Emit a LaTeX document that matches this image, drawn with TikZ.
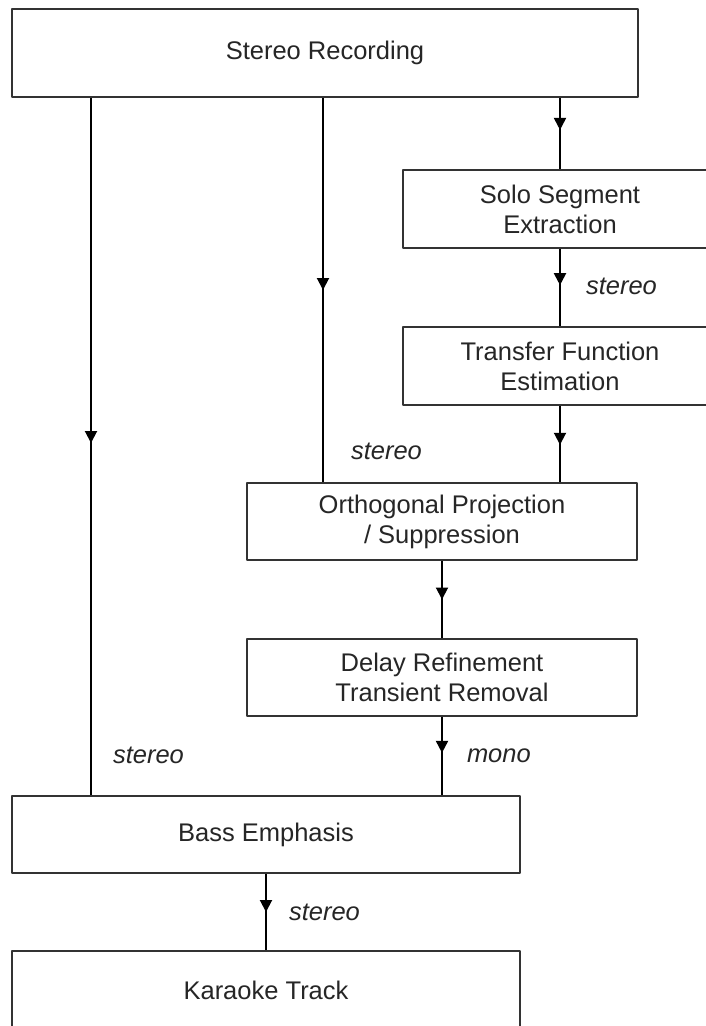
\documentclass[tikz,border=0pt]{standalone}
\usepackage{fontspec}
\setmainfont{Liberation Sans}
\usetikzlibrary{arrows.meta,decorations.markings}
\begin{document}
\begin{tikzpicture}[x=1pt, y=-1pt, font=\fontsize{25.5}{30}\selectfont, line join=round,
		block/.style={draw=black!80, line width=1.5pt, fill=white, inner sep=0pt, align=center, text=black!85},
		flow/.style={line width=2pt, postaction={decorate}, decoration={markings, mark=at position #1 with {\arrow{Triangle[width=12pt,length=12pt]}}}},
		flow/.default=0.5,
		sig/.style={font=\fontsize{25.5}{30}\selectfont\itshape, anchor=west, inner sep=0pt, text=black!85}]
		\clip (0,0) rectangle (706,1026);
		\fill[white] (0,0) rectangle (706,1026);
		\node[block, minimum width=626, minimum height=88] (rec) at (325,53) {Stereo Recording};
		\node[block, minimum width=314, minimum height=78] (solo) at (560,209) {Solo Segment\\Extraction};
		\node[block, minimum width=314, minimum height=78] (tf) at (560,366) {Transfer Function\\Estimation};
		\node[block, minimum width=390, minimum height=77] (orth) at (442,521.5) {Orthogonal Projection\\/ Suppression};
		\node[block, minimum width=390, minimum height=77] (delay) at (442,677.5) {Delay Refinement\\Transient Removal};
		\node[block, minimum width=508, minimum height=77] (bass) at (266,834.5) {Bass Emphasis};
		\node[block, minimum width=508, minimum height=78] (kara) at (266,990) {Karaoke Track};
		\coordinate (lcol) at (91,0);
		\coordinate (mcol) at (323,0);
		\draw[flow=0.45] (rec.south -| solo) -- (solo.north);
		\draw[flow=0.47] (solo.south) -- (tf.north) node[sig, pos=0.49, xshift=25pt]{stereo};
		\draw[flow=0.51] (tf.south) -- (orth.north -| tf.south);
		\draw[flow] (rec.south -| mcol) -- (orth.north -| mcol) node[sig, pos=0.92, xshift=27pt]{stereo};
		\draw[flow] (orth.south) -- (delay.north);
		\draw[flow=0.46] (delay.south) -- (bass.north -| delay.south) node[sig, pos=0.5, xshift=24pt]{mono};
		\draw[flow=0.495] (rec.south -| lcol) -- (bass.north -| lcol) node[sig, pos=0.943, xshift=21pt]{stereo};
		\draw[flow] (bass.south) -- (kara.north) node[sig, pos=0.5, xshift=22pt]{stereo};
\end{tikzpicture}
\end{document}
